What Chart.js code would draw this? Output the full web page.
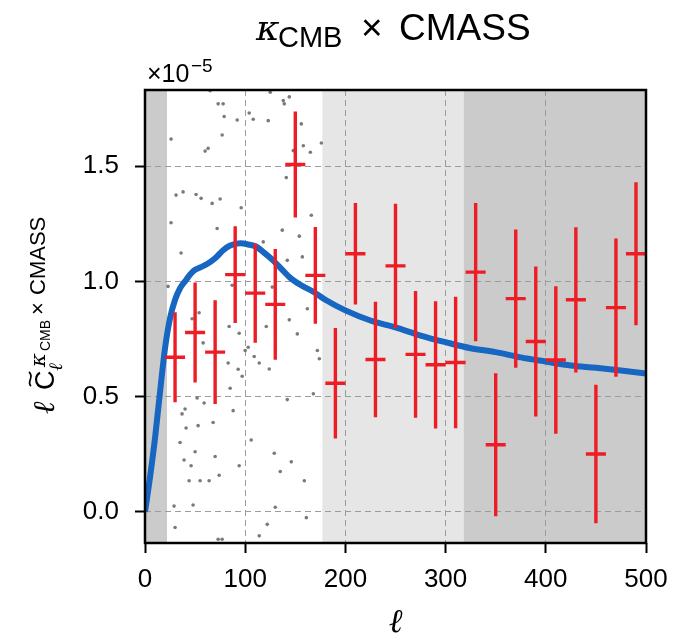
<!DOCTYPE html>
<html>
<head>
<meta charset="utf-8">
<script src="https://cdn.jsdelivr.net/npm/chart.js@4.4.0/dist/chart.umd.min.js"></script>
<style>
  html, body { margin: 0; padding: 0; background: #fff; }
  #wrap { width: 673px; height: 640px; }
</style>
</head>
<body>
<div id="wrap"><canvas id="chart" width="673" height="640"></canvas></div>
<script>
// measured bandpowers, in units of 1e-5
const binCenters = [30, 50, 70, 90, 110, 130, 150, 170, 190, 210, 230, 250,
                    270, 290, 310, 330, 350, 370, 390, 410, 430, 450, 470, 490];
const bandValues = [0.671, 0.778, 0.693, 1.029, 0.949, 0.900, 1.507, 1.026,
                    0.558, 1.120, 0.661, 1.067, 0.683, 0.638, 0.648, 1.040,
                    0.291, 0.925, 0.739, 0.659, 0.920, 0.251, 0.886, 1.120];
const bandErrors = [0.195, 0.217, 0.225, 0.210, 0.215, 0.240, 0.230, 0.210,
                    0.240, 0.220, 0.250, 0.270, 0.275, 0.276, 0.285, 0.300,
                    0.310, 0.300, 0.325, 0.320, 0.315, 0.300, 0.300, 0.310];
const binHalfWidth = 10;

// theory curve
const theoryEll = [0, 5, 10, 15, 20, 25, 30, 35, 40, 45, 50, 55, 62, 70, 78, 85, 95,
                   103, 111, 120, 128, 137, 145, 155, 168, 180, 200, 225, 250, 275,
                   300, 325, 350, 375, 400, 425, 450, 475, 500];
const theoryCl = [0, 0.15, 0.32, 0.52, 0.71, 0.84, 0.92, 0.97, 1.00, 1.03, 1.05, 1.06,
                  1.075, 1.10, 1.135, 1.155, 1.165, 1.16, 1.15, 1.12, 1.09, 1.05, 1.015,
                  0.985, 0.955, 0.92, 0.874, 0.83, 0.80, 0.765, 0.736, 0.71, 0.693,
                  0.67, 0.652, 0.635, 0.625, 0.613, 0.60];

// grey scatter in the low-ell window
const noiseEll = [65, 73, 78, 125, 138, 139, 144, 79, 92, 104, 108, 123, 156, 26, 77,
                  60, 63, 148, 158, 165, 176, 141, 31, 38, 51, 56, 67, 75, 96, 26, 72,
                  166, 137, 154, 118, 36, 142, 157,
                  23, 87, 127, 162, 54, 47, 144, 84, 121, 94, 152, 58, 100, 103, 172,
                  174, 109, 114, 83, 93, 124, 97, 85, 168, 142, 52, 59, 40, 37, 88, 53,
                  41, 68, 106, 35, 129, 50, 39, 46, 70, 146, 94, 135, 74, 44, 55, 64,
                  159, 29, 48, 130, 161, 30, 122, 114, 73, 77];
const noiseCl = [1.827, 1.77, 1.77, 1.82, 1.784, 1.77, 1.80, 1.715, 1.70, 1.73, 1.703,
                 1.697, 1.683, 1.617, 1.635, 1.565, 1.577, 1.567, 1.588, 1.56, 1.60,
                 1.45, 1.374, 1.388, 1.377, 1.36, 1.338, 1.357, 1.319, 1.254, 1.229,
                 1.287, 1.222, 1.196, 1.171, 1.123, 1.091, 1.106,
                 0.978, 0.983, 0.975, 0.881, 0.864, 0.838, 0.833, 0.804, 0.804, 0.775,
                 0.772, 0.733, 0.70, 0.714, 0.70, 0.664, 0.674, 0.646, 0.646, 0.619,
                 0.62, 0.588, 0.536, 0.512, 0.487, 0.494, 0.472, 0.446, 0.425, 0.439,
                 0.374, 0.364, 0.388, 0.312, 0.301, 0.254, 0.261, 0.225, 0.20, 0.24,
                 0.217, 0.20, 0.175, 0.159, 0.135, 0.135, 0.135, 0.135, 0.025, 0.03,
                 0.02, -0.025, -0.068, -0.054, -0.104, -0.119, -0.119];

// ell windows (cut / used / extra)
const regionEdges = [0, 22, 177, 318, 500];

const xTicks = [0, 100, 200, 300, 400, 500];
const yTicks = [0, 0.5, 1.0, 1.5];

const regionColors = ['#cbcbcb', '#ffffff', '#e6e6e6', '#cbcbcb'];

const errData = [];
binCenters.forEach((x, i) => {
  const y = bandValues[i], e = bandErrors[i];
  errData.push({x: x, y: y - e}, {x: x, y: y + e}, {x: x, y: null});
  errData.push({x: x - binHalfWidth, y: y}, {x: x + binHalfWidth, y: y}, {x: x, y: null});
});

const SANS = '"Liberation Sans", Arial, sans-serif';
const SERIF = '"DejaVu Serif", serif';

const backdrop = {
  id: 'backdrop',
  beforeDraw(chart) {
    const {ctx, chartArea: a, scales: {x}} = chart;
    ctx.save();
    for (let i = 0; i < regionColors.length; i++) {
      const x0 = x.getPixelForValue(regionEdges[i]);
      const x1 = x.getPixelForValue(regionEdges[i + 1]);
      ctx.fillStyle = regionColors[i];
      ctx.fillRect(x0, a.top, x1 - x0, a.bottom - a.top);
    }
    ctx.restore();
  }
};

const decor = {
  id: 'decor',
  afterDraw(chart) {
    const {ctx, chartArea: a} = chart;
    ctx.save();
    // frame
    ctx.strokeStyle = '#000';
    ctx.lineWidth = 2.5;
    ctx.beginPath();
    ctx.moveTo(a.left, a.top);
    ctx.lineTo(a.right, a.top);
    ctx.lineTo(a.right, a.bottom);
    ctx.lineTo(a.left, a.bottom);
    ctx.closePath();
    ctx.stroke();

    ctx.fillStyle = '#000';
    ctx.textBaseline = 'alphabetic';
    ctx.textAlign = 'left';

    // title
    ctx.font = 'italic 36px ' + SERIF;
    ctx.fillText('\u03BA', 256, 40);
    ctx.font = '29px ' + SANS;
    ctx.fillText('CMB', 278, 47);
    ctx.font = '37px ' + SANS;
    ctx.fillText('\u00D7', 361, 40);
    ctx.fillText('CMASS', 399, 40);

    // offset text
    ctx.font = '25px ' + SANS;
    ctx.fillText('\u00D710', 147, 82);
    ctx.font = '19px ' + SANS;
    ctx.fillText('\u22125', 191, 72);

    // x label
    ctx.font = 'italic 33px ' + SERIF;
    ctx.textAlign = 'center';
    ctx.fillText('\u2113', (a.left + a.right) / 2, 632);

    // y label
    ctx.textAlign = 'left';
    ctx.translate(54, 414);
    ctx.rotate(-Math.PI / 2);
    ctx.font = 'italic 30px ' + SERIF;
    ctx.fillText('\u2113', 0, 0);
    ctx.font = '27px ' + SANS;
    ctx.fillText('C', 24, 0);
    ctx.lineWidth = 1.7;
    ctx.beginPath();
    ctx.moveTo(28, -23);
    ctx.bezierCurveTo(32, -28, 37, -19, 42, -25);
    ctx.stroke();
    ctx.font = 'italic 19px ' + SERIF;
    ctx.fillText('\u2113', 43, 8);
    ctx.font = 'italic 21px ' + SERIF;
    ctx.fillText('\u03BA', 47, -9);
    ctx.font = '14px ' + SANS;
    ctx.fillText('CMB', 63, -4);
    ctx.font = '22px ' + SANS;
    ctx.fillText('\u00D7', 99, -9);
    ctx.fillText('CMASS', 119, -9);
    ctx.restore();
  }
};

new Chart(document.getElementById('chart'), {
  type: 'scatter',
  data: {
    datasets: [
      {
        data: errData,
        showLine: true,
        borderColor: '#ee1c24',
        borderWidth: 3.4,
        borderCapStyle: 'butt',
        pointRadius: 0,
        spanGaps: false,
        order: 0
      },
      {
        data: theoryEll.map((x, i) => ({x: x, y: theoryCl[i]})),
        showLine: true,
        borderColor: '#1766c1',
        borderWidth: 6,
        cubicInterpolationMode: 'monotone',
        pointRadius: 0,
        order: 1
      },
      {
        data: noiseEll.map((x, i) => ({x: x, y: noiseCl[i]})),
        backgroundColor: '#7a7a7a',
        borderWidth: 0,
        pointRadius: 1.8,
        order: 2
      }
    ]
  },
  options: {
    responsive: false,
    animation: false,
    devicePixelRatio: 1,
    layout: { padding: { left: 0, top: 90, right: 27, bottom: 0 } },
    plugins: { legend: { display: false }, tooltip: { enabled: false }, title: { display: false } },
    scales: {
      x: {
        type: 'linear',
        min: 0, max: 500,
        afterBuildTicks: s => { s.ticks = xTicks.map(v => ({value: v})); },
        afterFit: s => {
          s.height = 97;
          s.paddingLeft = 0; s.paddingRight = 0;
        },
        grid: { color: '#9c9c9c', lineWidth: 1, tickColor: '#000', tickWidth: 2, tickLength: 10 },
        border: { display: false, dash: [6, 4] },
        ticks: { color: '#000', font: { family: SANS, size: 26 }, padding: 11, maxRotation: 0 }
      },
      y: {
        type: 'linear',
        min: -0.135, max: 1.83,
        afterBuildTicks: s => { s.ticks = yTicks.map(v => ({value: v})); },
        afterFit: s => {
          s.width = 145;
          s.paddingTop = 0; s.paddingBottom = 0;
        },
        grid: { color: '#9c9c9c', lineWidth: 1, tickColor: '#000', tickWidth: 2, tickLength: 10 },
        border: { display: false, dash: [6, 4] },
        ticks: { color: '#000', font: { family: SANS, size: 26 }, padding: 16,
                 callback: v => v.toFixed(1) }
      }
    }
  },
  plugins: [backdrop, decor]
});
</script>
</body>
</html>
